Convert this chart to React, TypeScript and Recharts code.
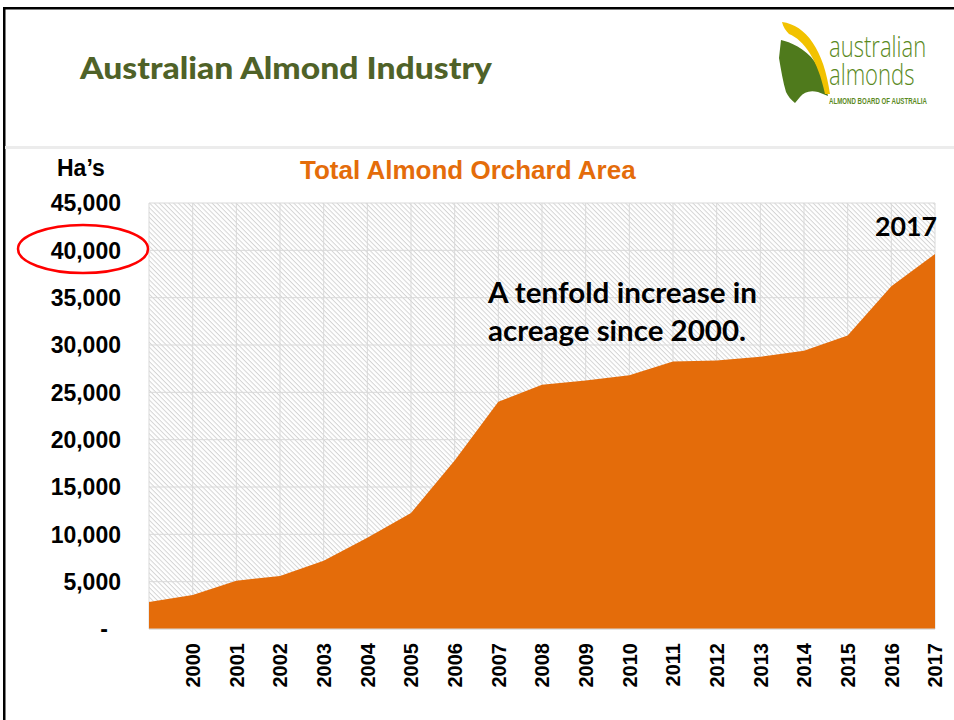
import React from 'react';
import { AreaChart, Area, XAxis, YAxis, CartesianGrid } from 'recharts';

// Total almond orchard area (hectares)
const years = [
  '1999', '2000', '2001', '2002', '2003', '2004', '2005', '2006', '2007', '2008',
  '2009', '2010', '2011', '2012', '2013', '2014', '2015', '2016', '2017',
];
const yearLabels = [
  '', '2000', '2001', '2002', '2003', '2004', '2005', '2006', '2007', '2008',
  '2009', '2010', '2011', '2012', '2013', '2014', '2015', '2016', '2017',
];
const orchardHa = [
  2850, 3600, 5100, 5600, 7200, 9650, 12250, 17800, 24000, 25800,
  26250, 26800, 28250, 28350, 28750, 29400, 31000, 36200, 39600,
];
const yTicks = [0, 5000, 10000, 15000, 20000, 25000, 30000, 35000, 40000, 45000];

const data = years.map((year, i) => ({ year, label: yearLabels[i], area: orchardHa[i] }));

const ORANGE = '#e46c0a';
const GRID = '#d9d9d9';
const ARIAL = '"Liberation Sans", Arial, sans-serif';
const CALIBRI = 'Lato, "Open Sans", sans-serif';

const YTick = (props: any) => {
  const { y, payload } = props;
  const v = payload.value as number;
  return (
    <text
      x={v === 0 ? 108 : 121}
      y={y}
      dy="0.36em"
      textAnchor="end"
      fontFamily={ARIAL}
      fontWeight="bold"
      fontSize={23}
      fill="#000"
    >
      {v === 0 ? '-' : v.toLocaleString('en-US')}
    </text>
  );
};

const XTick = (props: any) => {
  const { x, payload, index } = props;
  const label = data[index] ? data[index].label : payload.value;
  const top = 643;
  return (
    <text
      x={x}
      y={top}
      dy="0.36em"
      transform={`rotate(-90, ${x}, ${top})`}
      textAnchor="end"
      fontFamily={ARIAL}
      fontWeight="bold"
      fontSize={20}
      fill="#000"
    >
      {label}
    </text>
  );
};

const Logo = () => (
  <g>
    <path
      d="M781,40 C790,42 805,48 815,62 C822,74 826,86 828,96 L818,92 C810,90 804,92 800,97 L795,103 C791,100 788,96 786,92 C783,82 781,70 779,58 Z"
      fill="#4f7a1c"
    />
    <path
      d="M782,22 C806,25 824,50 830,94 L825,94 C818,60 804,40 789,34 C786,31 783,27 782,22 Z"
      fill="#f2c200"
    />
    <text transform="translate(829,57) scale(0.76,1)" fontFamily='"Open Sans", sans-serif'
      fontWeight={300} fontSize={29} fill="#5b8a1e">
      australian
    </text>
    <text transform="translate(829,85) scale(0.76,1)" fontFamily='"Open Sans", sans-serif'
      fontWeight={300} fontSize={29} fill="#5b8a1e">
      almonds
    </text>
    <text transform="translate(829,104) scale(0.72,1)" fontFamily={ARIAL}
      fontWeight="bold" fontSize={8.5} fill="#5b8a1e">
      ALMOND BOARD OF AUSTRALIA
    </text>
  </g>
);

export default function App() {
  return (
    <div style={{ position: 'absolute', left: 0, top: 0, width: 954, height: 720, background: '#fff', overflow: 'hidden' }}>
      <div style={{ position: 'absolute', left: 0, top: 0 }}>
        <AreaChart
          width={954}
          height={720}
          data={data}
          margin={{ top: 203, right: 19, bottom: 0, left: 0 }}
        >
          <defs>
            <pattern id="hatch" patternUnits="userSpaceOnUse" width={3.4} height={3.4} patternTransform="rotate(45)">
              <rect x={0} y={0} width={3.4} height={1} fill="#d4d4d4" />
            </pattern>
          </defs>
          <CartesianGrid stroke={GRID} fill="url(#hatch)" fillOpacity={1} />
          <XAxis
            dataKey="year"
            interval={0}
            height={91}
            tickLine={false}
            axisLine={{ stroke: GRID }}
            tick={<XTick />}
          />
          <YAxis
            width={149}
            domain={[0, 45000]}
            ticks={yTicks}
            tickLine={false}
            axisLine={false}
            tick={<YTick />}
          />
          <Area
            type="linear"
            dataKey="area"
            stroke="none"
            fill={ORANGE}
            fillOpacity={1}
            isAnimationActive={false}
          />
        </AreaChart>
      </div>
      <svg width={954} height={720} style={{ position: 'absolute', left: 0, top: 0, pointerEvents: 'none' }}>
        {/* slide frame */}
        <rect x={3} y={7} width={954} height={2.5} fill="#000" />
        <rect x={3} y={7} width={2.5} height={720} fill="#000" />
        <rect x={5} y={146} width={954} height={3} fill="#ececec" />

        <text x={80} y={79} fontFamily={CALIBRI} fontWeight={900} fontSize={31} fill="#4f6228"
          textLength={412} lengthAdjust="spacingAndGlyphs">
          Australian Almond Industry
        </text>
        <Logo />

        <text x={300} y={179} fontFamily={ARIAL} fontWeight="bold" fontSize={26} fill={ORANGE}>
          Total Almond Orchard Area
        </text>
        <text x={57} y={176} fontFamily={ARIAL} fontWeight="bold" fontSize={23} fill="#000">
          Ha’s
        </text>

        <text x={488} y={303} fontFamily={CALIBRI} fontWeight="bold" fontSize={28} fill="#000"
          textLength={269} lengthAdjust="spacingAndGlyphs">
          A tenfold increase in
        </text>
        <text x={488} y={341} fontFamily={CALIBRI} fontWeight="bold" fontSize={28} fill="#000"
          textLength={258} lengthAdjust="spacingAndGlyphs">
          acreage since 2000.
        </text>
        <text x={875} y={236} fontFamily={CALIBRI} fontWeight="bold" fontSize={27} fill="#000"
          textLength={62} lengthAdjust="spacingAndGlyphs">
          2017
        </text>

        <ellipse cx={83} cy={249} rx={65} ry={24} fill="none" stroke="#ff0000" strokeWidth={2.5} />
      </svg>
    </div>
  );
}
